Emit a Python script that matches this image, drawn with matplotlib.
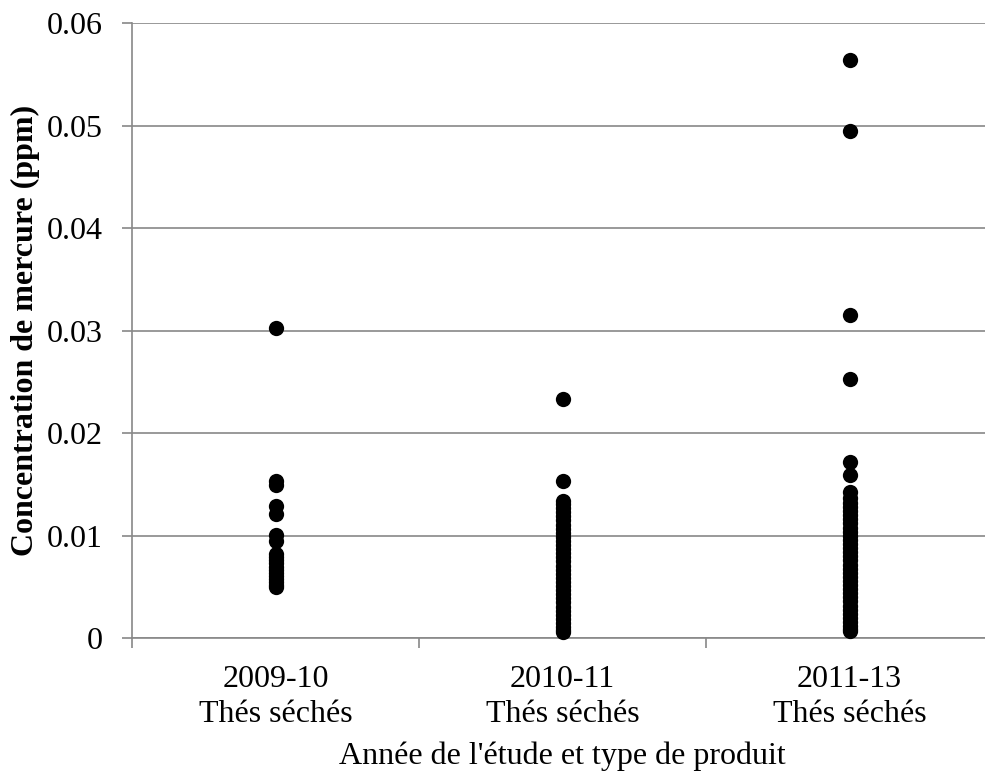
import matplotlib
matplotlib.use("Agg")
from matplotlib import pyplot as plt

# catégories (année de l'étude / type de produit)
categories = ["2009-10\nThés séchés", "2010-11\nThés séchés", "2011-13\nThés séchés"]

# concentrations de mercure (ppm)
hg_2009 = [0.0303, 0.0153, 0.0150, 0.0129, 0.0121, 0.0101, 0.0095,
           0.0082, 0.0079, 0.0076, 0.0073, 0.0070, 0.0067, 0.0064,
           0.0061, 0.0058, 0.0055, 0.0052, 0.0050]
hg_2010 = [0.0233, 0.0153, 0.0134, 0.0131, 0.0127, 0.0123, 0.0119,
           0.0115, 0.0111, 0.0107, 0.0103, 0.0099, 0.0095, 0.0091,
           0.0087, 0.0083, 0.0079, 0.0075, 0.0071, 0.0067, 0.0063,
           0.0059, 0.0055, 0.0051, 0.0047, 0.0043, 0.0039, 0.0035,
           0.0031, 0.0027, 0.0023, 0.0019, 0.0015, 0.0011, 0.0008,
           0.0006]
hg_2011 = [0.0564, 0.0495, 0.0315, 0.0253, 0.0172, 0.0159, 0.0143,
           0.0137, 0.0132, 0.0128, 0.0124, 0.0120, 0.0116, 0.0112,
           0.0108, 0.0104, 0.0100, 0.0096, 0.0092, 0.0088, 0.0084,
           0.0080, 0.0076, 0.0072, 0.0068, 0.0064, 0.0060, 0.0056,
           0.0052, 0.0048, 0.0044, 0.0040, 0.0036, 0.0032, 0.0028,
           0.0024, 0.0020, 0.0016, 0.0012, 0.0009, 0.0007]
series = [hg_2009, hg_2010, hg_2011]

plt.rcParams['font.family'] = ['Liberation Serif', 'DejaVu Serif']
grey = '#888888'

fig = plt.figure(figsize=(9.85, 7.73), dpi=100)
ax = fig.add_axes([132/985, (773-638.3)/773, 861/985, 615/773])

for i, vals in enumerate(series):
    ax.plot([i]*len(vals), vals, 'o', color='black', markersize=11,
            markeredgewidth=0, clip_on=False, zorder=3)

ax.set_xlim(-0.5, 2.5)
ax.set_ylim(0, 0.06)
ax.set_yticks([0, 0.01, 0.02, 0.03, 0.04, 0.05, 0.06])
ax.set_yticklabels(['0', '0.01', '0.02', '0.03', '0.04', '0.05', '0.06'])
ax.yaxis.grid(True, color=grey, linewidth=1.2)
ax.set_axisbelow(True)

ax.set_xticks([-0.5, 0.5, 1.5, 2.5])
ax.set_xticklabels([])
ax.set_xticks([0, 1, 2], minor=True)
ax.set_xticklabels(categories, minor=True, linespacing=1.3)
ax.tick_params(axis='x', which='minor', length=0, pad=19, labelsize=23)
ax.tick_params(axis='x', which='major', length=7, color=grey, width=1.2)
ax.tick_params(axis='y', length=7, color=grey, width=1.2, pad=14, labelsize=23)

for s in ['top', 'right']:
    ax.spines[s].set_visible(False)
for s in ['left', 'bottom']:
    ax.spines[s].set_color(grey)
    ax.spines[s].set_linewidth(1.2)

ax.set_ylabel('Concentration de mercure (ppm)', fontsize=23, fontweight='bold', labelpad=5)
ax.set_xlabel("Année de l'étude et type de produit", fontsize=23, labelpad=9)

fig.savefig('out.png', dpi=100)
